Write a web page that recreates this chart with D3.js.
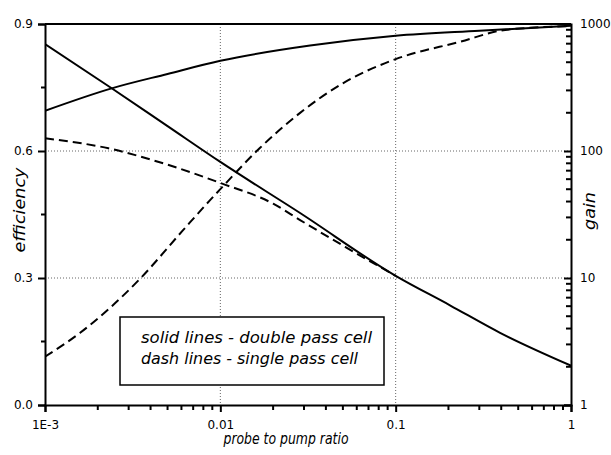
<!DOCTYPE html>
<html><head><meta charset="utf-8">
<script src="https://cdn.jsdelivr.net/npm/d3@7"></script>
<style>
body{margin:0;background:#fff}
text{font-family:"DejaVu Sans",sans-serif;fill:#000}
</style>
</head><body>
<svg id="c" width="611" height="455"></svg>
<script>
// ---- data ----
const xTicks = [0.001, 0.01, 0.1, 1];
const xTickLabels = ["1E-3", "0.01", "0.1", "1"];
const xMinor = [0.002,0.003,0.004,0.005,0.006,0.007,0.008,0.009,0.02,0.03,0.04,0.05,0.06,0.07,0.08,0.09,0.2,0.3,0.4,0.5,0.6,0.7,0.8,0.9];
const effTicks = [0, 0.3, 0.6, 0.9];
const effTickLabels = ["0.0", "0.3", "0.6", "0.9"];
const effMinor = [0.15, 0.45, 0.75];
const gainTicks = [1, 10, 100, 1000];
const gainTickLabels = ["1", "10", "100", "1000"];
const gainMinor = [2,3,4,5,6,7,8,9,20,30,40,50,60,70,80,90,200,300,400,500,600,700,800,900];

// efficiency, double pass cell (solid)
const effDoubleX = [0.001, 0.0024, 0.005, 0.01, 0.0325, 0.1, 0.3, 1];
const effDoubleY = [0.695, 0.748, 0.782, 0.813, 0.849, 0.872, 0.884, 0.896];
// efficiency, single pass cell (dashed)
const effSingleX = [0.001, 0.00158, 0.00348, 0.00613, 0.00874, 0.01, 0.0168, 0.0285, 0.05, 0.1, 0.233, 0.421, 1];
const effSingleY = [0.114, 0.170, 0.298, 0.413, 0.484, 0.510, 0.607, 0.690, 0.760, 0.817, 0.858, 0.886, 0.895];
// gain, double pass cell (solid)
const gainDoubleX = [0.001, 0.0024, 0.005, 0.01, 0.0285, 0.1, 0.204, 0.394, 1];
const gainDoubleY = [696, 312, 157, 82, 32.5, 10.4, 6.1, 3.7, 2.04];
// gain, single pass cell (dashed)
const gainSingleX = [0.001, 0.0023, 0.005, 0.01, 0.02, 0.0285, 0.0515, 0.1];
const gainSingleY = [126, 105, 78, 56, 38.5, 28.6, 17.6, 10.4];

const legendLines = ["solid lines - double pass cell", "dash lines - single pass cell"];
const xTitle = "probe to pump ratio";
const yLeftTitle = "efficiency";
const yRightTitle = "gain";

// ---- layout ----
const L = 45, R = 571, T = 24, B = 405;
const svg = d3.select("#c");

const x = d3.scaleLog().domain([0.001, 1]).range([L, R]);
const yE = d3.scaleLinear().domain([0, 0.9]).range([B, T]);
const yG = d3.scaleLog().domain([1, 1000]).range([B, T]);

// grid
const grid = svg.append("g").attr("stroke", "#666").attr("stroke-width", 1).attr("stroke-dasharray", "1,2");
[0.01, 0.1].forEach(v => grid.append("line").attr("x1", x(v)).attr("x2", x(v)).attr("y1", T).attr("y2", B));
[0.3, 0.6].forEach(v => grid.append("line").attr("x1", L).attr("x2", R).attr("y1", yE(v)).attr("y2", yE(v)));

// curves
svg.append("clipPath").attr("id", "pc").append("rect")
  .attr("x", L).attr("y", T).attr("width", R - L).attr("height", B - T);
const plot = svg.append("g").attr("clip-path", "url(#pc)");

function drawSeries(xs, ys, yScale, dashed) {
  const pts = xs.map((v, i) => [v, ys[i]]);
  const line = d3.line().x(d => x(d[0])).y(d => yScale(d[1])).curve(d3.curveMonotoneX);
  plot.append("path").attr("d", line(pts)).attr("fill", "none")
    .attr("stroke", "#000").attr("stroke-width", 2)
    .attr("stroke-dasharray", dashed ? "9,5" : null);
}
drawSeries(effDoubleX, effDoubleY, yE, false);
drawSeries(effSingleX, effSingleY, yE, true);
drawSeries(gainSingleX, gainSingleY, yG, true);
drawSeries(gainDoubleX, gainDoubleY, yG, false);

// axes
function styleAxis(g) {
  g.selectAll("path.domain").attr("stroke", "#000").attr("stroke-width", 2);
  g.selectAll(".tick line").attr("stroke", "#000").attr("stroke-width", 2);
  g.selectAll("text").attr("font-size", 12).attr("font-family", "DejaVu Sans").attr("fill", "#000");
}
svg.append("g").attr("transform", `translate(0,${B})`)
  .call(d3.axisBottom(x).tickValues(xTicks).tickSize(7).tickPadding(8)
    .tickFormat((d, i) => xTickLabels[i]))
  .call(styleAxis);
svg.append("g").attr("transform", `translate(${L},0)`)
  .call(d3.axisLeft(yE).tickValues(effTicks).tickSize(7).tickPadding(5)
    .tickFormat((d, i) => effTickLabels[i]))
  .call(styleAxis);
svg.append("g").attr("transform", `translate(${R},0)`)
  .call(d3.axisRight(yG).tickValues(gainTicks).tickSize(-7).tickPadding(9)
    .tickFormat((d, i) => gainTickLabels[i]))
  .call(styleAxis);

// minor ticks
const mt = svg.append("g").attr("stroke", "#000").attr("stroke-width", 2);
mt.selectAll("line.xm").data(xMinor).join("line").attr("class", "xm")
  .attr("x1", d => x(d)).attr("x2", d => x(d)).attr("y1", B).attr("y2", B + 5);
mt.selectAll("line.em").data(effMinor).join("line").attr("class", "em")
  .attr("x1", L - 4).attr("x2", L).attr("y1", d => yE(d)).attr("y2", d => yE(d));
mt.selectAll("line.gm").data(gainMinor).join("line").attr("class", "gm")
  .attr("x1", R - 5).attr("x2", R).attr("y1", d => yG(d)).attr("y2", d => yG(d));

// top border
svg.append("line").attr("x1", L).attr("x2", R).attr("y1", T).attr("y2", T)
  .attr("stroke", "#000").attr("stroke-width", 2);

// titles
svg.append("text").attr("x", 286).attr("y", 444).attr("text-anchor", "middle")
  .attr("font-size", 15).attr("font-style", "italic")
  .attr("textLength", 125).attr("lengthAdjust", "spacingAndGlyphs").text(xTitle);
svg.append("text").attr("transform", "translate(25,210) rotate(-90)").attr("text-anchor", "middle")
  .attr("font-size", 16.5).attr("font-style", "italic")
  .attr("textLength", 85).attr("lengthAdjust", "spacingAndGlyphs").text(yLeftTitle);
svg.append("text").attr("transform", "translate(595,211) rotate(-90)").attr("text-anchor", "middle")
  .attr("font-size", 16.5).attr("font-style", "italic")
  .attr("textLength", 38).attr("lengthAdjust", "spacingAndGlyphs").text(yRightTitle);

// legend
svg.append("rect").attr("x", 120).attr("y", 317).attr("width", 264).attr("height", 68)
  .attr("fill", "#fff").attr("stroke", "#000").attr("stroke-width", 1.5);
const legendLens = [231, 217];
legendLines.forEach((t, i) => {
  svg.append("text").attr("x", 141).attr("y", 343 + i * 21)
    .attr("font-size", 16).attr("font-style", "italic")
    .attr("textLength", legendLens[i]).attr("lengthAdjust", "spacingAndGlyphs").text(t);
});
</script>
</body></html>
